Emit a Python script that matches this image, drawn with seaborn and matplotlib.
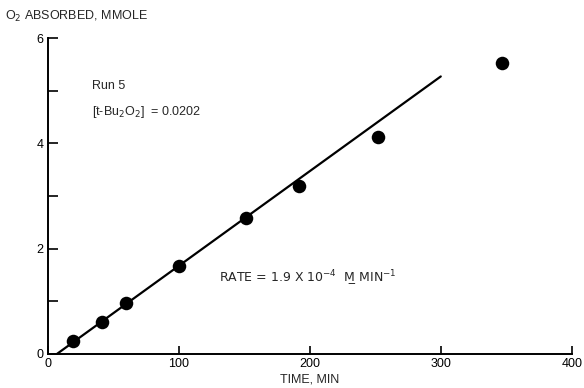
import numpy as np
import pandas as pd
import matplotlib
matplotlib.use("Agg")
import matplotlib.pyplot as plt
import seaborn as sns

# --- Data ---
time_min = [19, 41, 60, 100, 151, 192, 252, 347]
o2_mmole = [0.25, 0.61, 0.97, 1.67, 2.58, 3.19, 4.12, 5.52]

# fitted rate line (end points)
fit_time = [7, 300]
fit_o2 = [0.0, 5.27]

x_ticks = [0, 100, 200, 300, 400]
y_ticks = [0, 2, 4, 6]
y_minor = [1, 3, 5]

df = pd.DataFrame({"time": time_min, "o2": o2_mmole})
fit = pd.DataFrame({"time": fit_time, "o2": fit_o2})

sns.set_style("ticks", {"xtick.direction": "in", "ytick.direction": "in"})
plt.rcParams["font.family"] = ["Liberation Sans", "DejaVu Sans"]

fig = plt.figure(figsize=(5.84, 3.88), dpi=100)
ax = fig.add_axes([0.082, 0.088, 0.897, 0.814])

sns.lineplot(data=fit, x="time", y="o2", color="black", linewidth=1.6, ax=ax)
sns.scatterplot(data=df, x="time", y="o2", color="black", s=95,
                edgecolor="black", linewidth=0, ax=ax, zorder=3)

ax.set_xlim(0, 400)
ax.set_ylim(0, 6)
ax.set_xticks(x_ticks)
ax.set_yticks(y_ticks)
ax.set_yticks(y_minor, minor=True)
ax.tick_params(axis="both", which="both", direction="in", length=7,
               width=1.2, labelsize=9, colors="black", pad=3)
ax.tick_params(axis="x", which="major", length=6)
ax.set_xlabel("")
ax.set_ylabel("")
sns.despine(ax=ax)
for side in ["left", "bottom"]:
    ax.spines[side].set_linewidth(1.4)
    ax.spines[side].set_color("black")

# labels
fig.text(0.008, 0.958, "O$_2$ ABSORBED, MMOLE", fontsize=9, ha="left", va="center")
fig.text(0.53, 0.022, "TIME, MIN", fontsize=9, ha="center", va="center")

ax.text(0.084, 0.848, "Run 5", transform=ax.transAxes, fontsize=9, va="center")
ax.text(0.084, 0.765, "[t-Bu$_2$O$_2$]  = 0.0202", transform=ax.transAxes,
        fontsize=9, va="center")
ax.text(0.327, 0.238, "RATE = 1.9 X 10$^{-4}$  M\u0332 MIN$^{-1}$",
        transform=ax.transAxes, fontsize=9, va="center",
        family=["DejaVu Sans"])

fig.savefig("out.png", dpi=100)
